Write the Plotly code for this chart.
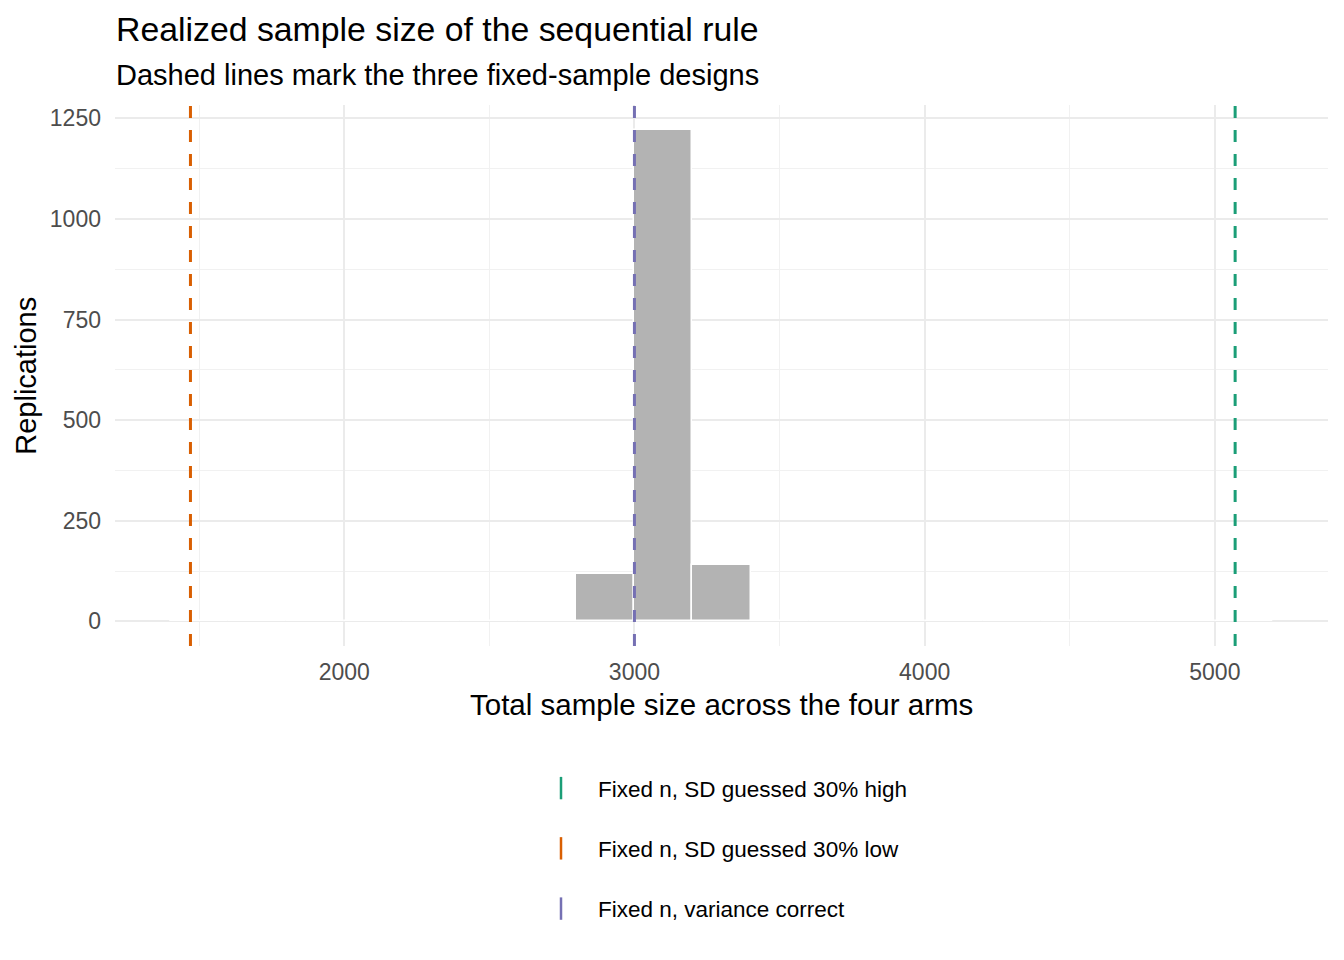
import plotly.graph_objects as go

# histogram of total sample size (bin width 200), counts
bin_start = [1400, 1600, 1800, 2000, 2200, 2400, 2600, 2800, 3000, 3200,
             3400, 3600, 3800, 4000, 4200, 4400, 4600, 4800, 5000]
counts = [0, 0, 0, 0, 0, 0, 0, 118, 1222, 140,
          0, 0, 0, 0, 0, 0, 0, 0, 0]
bin_width = 200

# fixed-sample designs
design_names = ["Fixed n, SD guessed 30% high", "Fixed n, SD guessed 30% low",
                "Fixed n, variance correct"]
design_n = [5070, 1470, 3000]
design_colors = ["#1B9E77", "#D95F02", "#7570B3"]

x_ticks = [2000, 3000, 4000, 5000]
y_ticks = [0, 250, 500, 750, 1000, 1250]

FONT = "Liberation Sans, Arial, sans-serif"
# page body has an 8px margin, so the figure is shrunk / shifted to compensate
OFF = 8
W, H = 1344 - OFF, 960 - OFF
L, T = 115 - OFF, 105.4 - OFF
R = W - (1328 - OFF)
B = H - (646.1 - OFF)
ph = H - T - B


def py(y_px):
    # page pixel row -> paper y
    return (H - B - (y_px - OFF)) / ph


def px(x_px):
    return (x_px - OFF - L) / (W - L - R)


fig = go.Figure()

fig.add_trace(go.Bar(
    x=bin_start, y=counts, width=bin_width, offset=0,
    marker=dict(color="#B3B3B3", line=dict(color="white", width=1.5)),
    showlegend=False, hoverinfo="x+y",
))

for name, n, col in zip(design_names, design_n, design_colors):
    fig.add_vline(x=n, line=dict(color=col, width=3, dash="12px,12px"), layer="above")
    # legend key only
    fig.add_trace(go.Scatter(
        x=[None], y=[None], mode="markers", name=name, legendgroup=name,
        marker=dict(symbol="line-ns-open", size=30, color=col,
                    line=dict(color=col, width=2.5)),
    ))

grid = "#EBEBEB"
fig.update_xaxes(
    range=[1210, 5390], tickvals=x_ticks, ticks="", showline=False, zeroline=False,
    showgrid=True, gridcolor=grid, gridwidth=1.6,
    minor=dict(tick0=1500, dtick=1000, showgrid=True, gridcolor="#F1F1F1", gridwidth=1),
    tickfont=dict(family=FONT, size=23, color="#4D4D4D"), ticklabelstandoff=10,
)
fig.update_yaxes(
    range=[-61.1, 1283.1], tickvals=y_ticks, ticks="", showline=False, zeroline=False,
    showgrid=True, gridcolor=grid, gridwidth=1.6,
    minor=dict(tick0=125, dtick=250, showgrid=True, gridcolor="#F1F1F1", gridwidth=1),
    tickfont=dict(family=FONT, size=23, color="#4D4D4D"), ticklabelstandoff=13,
)

annos = [
    dict(text="Realized sample size of the sequential rule", x=px(114), y=py(29),
         xanchor="left", yanchor="middle", font=dict(size=33.8, color="black")),
    dict(text="Dashed lines mark the three fixed-sample designs", x=px(114), y=py(75),
         xanchor="left", yanchor="middle", font=dict(size=29, color="black")),
    dict(text="Total sample size across the four arms", x=0.5, y=py(705),
         xanchor="center", yanchor="middle", font=dict(size=29.5, color="black")),
    dict(text="Replications", x=px(26), y=py(376), textangle=-90,
         xanchor="center", yanchor="middle", font=dict(size=29, color="black")),
]
for a in annos:
    a.update(xref="paper", yref="paper", showarrow=False)
    a["font"]["family"] = FONT

fig.update_layout(
    width=W, height=H,
    margin=dict(l=L, r=R, t=T, b=B),
    paper_bgcolor="white", plot_bgcolor="white",
    bargap=0,
    annotations=annos,
    legend=dict(
        x=px(524), y=py(767), xanchor="left", yanchor="top",
        orientation="v", tracegroupgap=28, itemsizing="trace", itemwidth=64,
        font=dict(family=FONT, size=22.5, color="black"),
        bgcolor="rgba(0,0,0,0)",
    ),
    font=dict(family=FONT),
)

fig.write_html("out.html")
